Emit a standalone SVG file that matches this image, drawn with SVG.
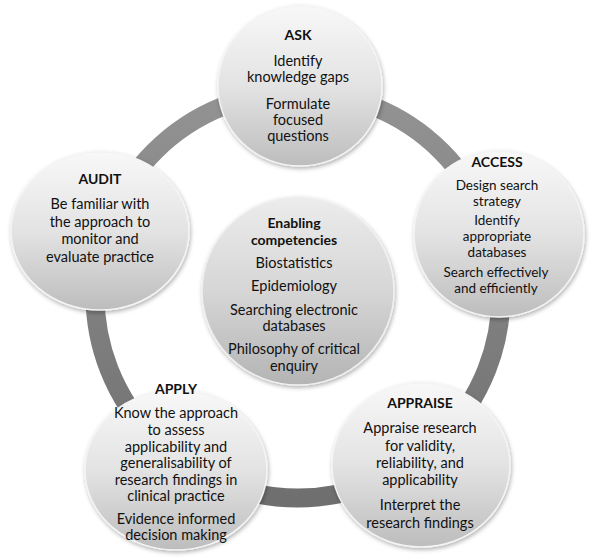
<svg xmlns="http://www.w3.org/2000/svg" width="594" height="560" viewBox="0 0 594 560">
<defs>
<linearGradient id="gBall" x1="0" y1="0" x2="0" y2="1">
<stop offset="0" stop-color="#f8f8f8"/>
<stop offset="0.5" stop-color="#e3e3e3"/>
<stop offset="1" stop-color="#bdbdbd"/>
</linearGradient>
<linearGradient id="gCenter" x1="0" y1="0" x2="0" y2="1">
<stop offset="0" stop-color="#ececec"/>
<stop offset="0.5" stop-color="#d6d6d6"/>
<stop offset="1" stop-color="#b4b4b4"/>
</linearGradient>
<linearGradient id="gRing" x1="0" y1="0" x2="0" y2="1">
<stop offset="0" stop-color="#939393"/>
<stop offset="1" stop-color="#6f6f6f"/>
</linearGradient>
<filter id="shadow" x="-10%" y="-10%" width="125%" height="125%">
<feDropShadow dx="1" dy="2" stdDeviation="2" flood-color="#000" flood-opacity="0.3"/>
</filter>
<style>
.ball{fill:url(#gBall);stroke:#f4f4f4;stroke-width:1.5;filter:url(#shadow)}
.cball{fill:url(#gCenter);stroke:#f0f0f0;stroke-width:1.5;filter:url(#shadow)}
text{font-family:Lato,"Liberation Sans",sans-serif;font-size:14.5px;fill:#111;text-anchor:middle}
.t{font-weight:bold;font-size:14px}
.s{font-size:13.5px}
</style>
</defs>
<rect width="594" height="560" fill="#ffffff"/>
<g id="connectors">
<circle cx="298" cy="295" r="203" fill="none" stroke="url(#gRing)" stroke-width="19"/>
</g>
<g id="ask">
<ellipse class="ball" cx="300" cy="86" rx="82" ry="80"/>
<text class="t" x="298" y="40">ASK</text>
<text x="298" y="66">Identify</text>
<text x="298" y="82">knowledge gaps</text>
<text x="298" y="109">Formulate</text>
<text x="298" y="125">focused</text>
<text x="298" y="141">questions</text>
</g>
<g id="access">
<ellipse class="ball" cx="499" cy="234" rx="85" ry="83"/>
<text class="t" x="497" y="167">ACCESS</text>
<text class="s" x="497" y="190">Design search</text>
<text class="s" x="497" y="206">strategy</text>
<text class="s" x="497" y="225">Identify</text>
<text class="s" x="497" y="241">appropriate</text>
<text class="s" x="497" y="257">databases</text>
<text class="s" x="496" y="277">Search effectively</text>
<text class="s" x="496" y="293">and efficiently</text>
</g>
<g id="audit">
<ellipse class="ball" cx="100" cy="231" rx="89" ry="79"/>
<text class="t" x="100" y="184">AUDIT</text>
<text x="100" y="209">Be familiar with</text>
<text x="100" y="227">the approach to</text>
<text x="100" y="244">monitor and</text>
<text x="100" y="262">evaluate practice</text>
</g>
<g id="enabling">
<ellipse class="cball" cx="298" cy="291" rx="96" ry="94"/>
<text class="t" x="294" y="228">Enabling</text>
<text class="t" x="294" y="245">competencies</text>
<text x="294" y="268">Biostatistics</text>
<text x="294" y="291">Epidemiology</text>
<text x="294" y="315">Searching electronic</text>
<text x="294" y="331">databases</text>
<text x="294" y="354">Philosophy of critical</text>
<text x="294" y="371">enquiry</text>
</g>
<g id="apply">
<ellipse class="ball" cx="176" cy="470" rx="91" ry="80"/>
<text class="t" x="176" y="394">APPLY</text>
<text x="176" y="418">Know the approach</text>
<text x="176" y="435">to assess</text>
<text x="176" y="452">applicability and</text>
<text x="176" y="468">generalisability of</text>
<text x="176" y="485">research findings in</text>
<text x="176" y="501">clinical practice</text>
<text x="176" y="524">Evidence informed</text>
<text x="176" y="540">decision making</text>
</g>
<g id="appraise">
<ellipse class="ball" cx="421" cy="465" rx="89" ry="82"/>
<text class="t" x="420" y="408">APPRAISE</text>
<text x="420" y="433">Appraise research</text>
<text x="420" y="451">for validity,</text>
<text x="420" y="468">reliability, and</text>
<text x="420" y="485">applicability</text>
<text x="420" y="510">Interpret the</text>
<text x="420" y="528">research findings</text>
</g>
</svg>
